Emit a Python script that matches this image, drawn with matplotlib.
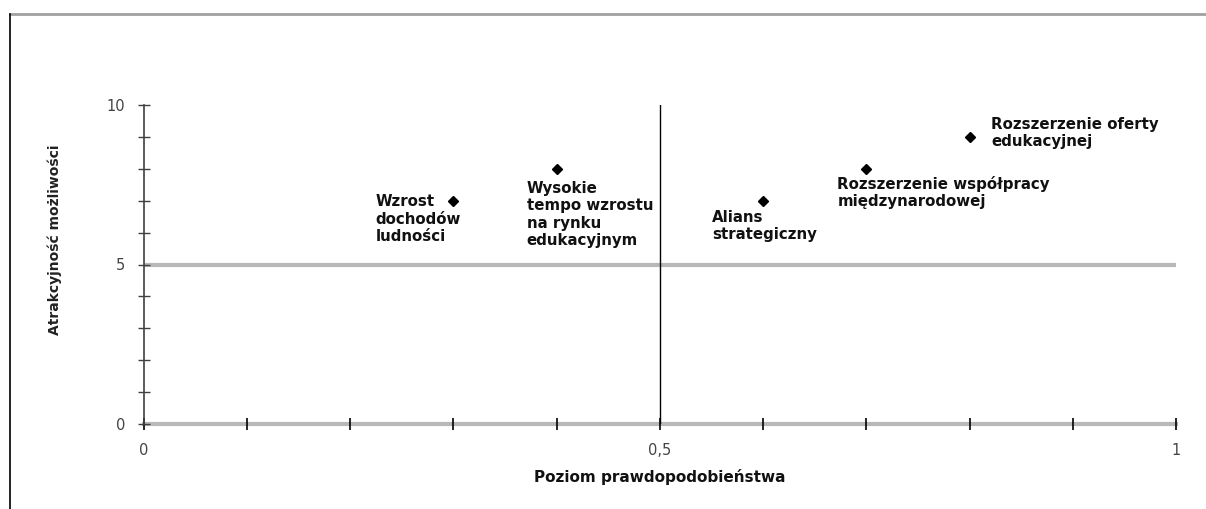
import matplotlib
matplotlib.use('Agg')
import matplotlib.pyplot as plt
from matplotlib.lines import Line2D
from matplotlib.ticker import MultipleLocator, FuncFormatter

# data
prob = [0.3, 0.4, 0.6, 0.7, 0.8]
attract = [7, 8, 7, 8, 9]
labels = [
    'Wzrost\ndochodów\nludności',
    'Wysokie\ntempo wzrostu\nna rynku\nedukacyjnym',
    'Alians\nstrategiczny',
    'Rozszerzenie współpracy\nmiędzynarodowej',
    'Rozszerzenie oferty\nedukacyjnej',
]
# where each label's top-left corner sits (data units)
label_pos = [(0.225, 7.2), (0.371, 7.62), (0.551, 6.72), (0.672, 7.78), (0.821, 9.63)]

fig = plt.figure(figsize=(12.06, 5.09), dpi=100)
ax = fig.add_axes([143.5 / 1206, 85 / 509, (1176 - 143.5) / 1206, 319 / 509])

ax.set_xlim(0, 1)
ax.set_ylim(0, 10)

# quadrant dividers
ax.axhline(5, color='#b8b8b8', lw=3, zorder=1)
ax.axvline(0.5, color='black', lw=1, zorder=1)

ax.plot(prob, attract, 'D', color='black', ms=5, zorder=3)
for txt, (tx, ty) in zip(labels, label_pos):
    ax.text(tx, ty, txt, ha='left', va='top', fontsize=10.8, fontweight='bold',
            family='DejaVu Sans', linespacing=1.2, color='#111111')

for s in ('top', 'right'):
    ax.spines[s].set_visible(False)
ax.spines['left'].set_color('#404040')
ax.spines['left'].set_linewidth(1.2)
ax.spines['bottom'].set_color('#b8b8b8')
ax.spines['bottom'].set_linewidth(3)
ax.spines['bottom'].set_zorder(0)

ax.xaxis.set_major_locator(MultipleLocator(0.1))
ax.yaxis.set_major_locator(MultipleLocator(1))


def fmt_x(v, pos):
    r = round(v, 2)
    if r in (0, 0.5, 1):
        return ('%g' % r).replace('.', ',')
    return ''


def fmt_y(v, pos):
    r = round(v)
    return '%d' % r if r in (0, 5, 10) else ''


ax.xaxis.set_major_formatter(FuncFormatter(fmt_x))
ax.yaxis.set_major_formatter(FuncFormatter(fmt_y))
ax.tick_params(axis='x', direction='inout', length=8, width=1.2, color='black',
               pad=10, labelsize=10.5, labelcolor='#444444')
ax.tick_params(axis='y', direction='inout', length=8, width=1, color='#404040',
               pad=9, labelsize=10.5, labelcolor='#444444')

ax.set_xlabel('Poziom prawdopodobieństwa', fontsize=11, fontweight='bold', color='#111111')
ax.xaxis.set_label_coords(0.5, -0.14)
ax.set_ylabel('Atrakcyjność możliwości', fontsize=10, fontweight='bold', color='#222222')
ax.yaxis.set_label_coords(-0.079, 0.577)

# frame lines from the original page
fig.add_artist(Line2D([10 / 1206, 1], [1 - 14 / 509, 1 - 14 / 509], color='#a0a0a0', lw=2))
fig.add_artist(Line2D([10 / 1206, 10 / 1206], [0, 1 - 14 / 509], color='black', lw=1.2))

fig.savefig('out.png', dpi=100)
